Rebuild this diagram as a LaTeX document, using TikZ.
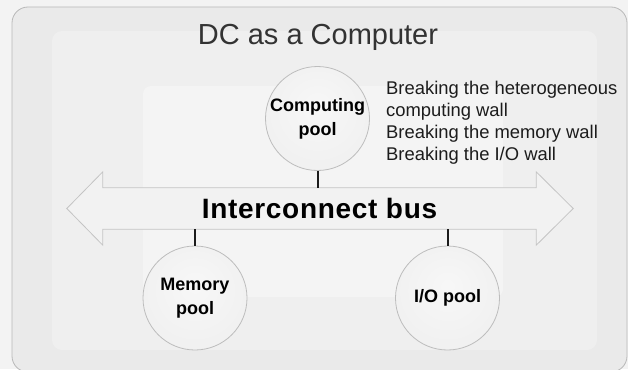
\documentclass[tikz,border=0pt]{standalone}
\usepackage{fontspec}
\setmainfont{Liberation Sans}
\usetikzlibrary{calc}
\pgfdeclarelayer{panels}
\pgfdeclarelayer{busbody}
\pgfsetlayers{panels,busbody,main}
\definecolor{pageback}{HTML}{F3F3F3}
\definecolor{panelfill}{HTML}{EAEAEA}
\definecolor{panelline}{HTML}{B9B9B9}
\definecolor{glowmid}{HTML}{EFEFEF}
\definecolor{glowin}{HTML}{F4F4F4}
\definecolor{busfill}{HTML}{F2F2F2}
\definecolor{busline}{HTML}{C4C4C4}
\definecolor{poolline}{HTML}{BDBDBD}
\definecolor{inktext}{HTML}{1C1C1C}
% soft sphere-like fill for the pools
\pgfdeclareradialshading{poolshade}{\pgfpoint{0bp}{6bp}}{%
  color(0bp)=(white!97!black);
  color(30bp)=(white!94!black);
  color(44bp)=(white!91!black);
  color(50bp)=(white!89!black)}
\tikzset{
  pool/.style={circle, draw=poolline, line width=0.8pt, inner sep=0pt,
    minimum size=104pt, shading=poolshade,
    align=center, text=black, font=\bfseries\fontsize{18}{24}\selectfont},
  link/.style={draw=inktext, line width=2pt},
  note/.style={anchor=base west, inner sep=0pt, text=inktext,
    font=\fontsize{18.4}{22}\selectfont},
}
\begin{document}
\begin{tikzpicture}[x=1pt, y=-1pt]
\useasboundingbox (0,0) rectangle (628,369);
\begin{pgfonlayer}{panels}
\fill[pageback] (0,0) rectangle (628,369);
% outer panel with nested lighter glow zones
\draw[panelline, fill=panelfill, line width=0.8pt, rounded corners=16pt] (12,7) rectangle (627,372);
\fill[glowmid, rounded corners=10pt] (52,31) rectangle (597,350);
\fill[glowin, rounded corners=8pt] (143,86) rectangle (503,297);
\end{pgfonlayer}
% title
\node[anchor=base, inner sep=0pt, text=inktext!90!white, font=\fontsize{29}{34}\selectfont] (title) at (318,45) {DC as a Computer};
% interconnect bus: label fills the shaft, double-headed outline drawn behind it
\node[minimum width=433pt, minimum height=41pt, inner sep=0pt, text=black,
      font=\bfseries\fontsize{28}{32}\selectfont\addfontfeature{LetterSpace=2.5}] (bus) at (319.5,208.5) {Interconnect bus};
\begin{pgfonlayer}{busbody}
\path[draw=busline, fill=busfill, line width=0.8pt]
  (bus.north west) -- ($(bus.north west)+(0,-16)$) -- ($(bus.west)+(-36,0)$)
  -- ($(bus.south west)+(0,16)$) -- (bus.south west) -- (bus.south east)
  -- ($(bus.south east)+(0,16)$) -- ($(bus.east)+(37,0)$)
  -- ($(bus.north east)+(0,-16)$) -- (bus.north east) -- cycle;
\end{pgfonlayer}
% resource pools
\node[pool] (comp) at (317.5,118.5) {Computing\\pool};
\node[pool] (mem) at (195,298) {Memory\\pool};
\node[pool] (io) at (447.5,298) {I/O pool};
% links to the bus
\draw[link] (comp.south) -- (comp.south |- bus.north);
\draw[link] (mem.north) -- (mem.north |- bus.south);
\draw[link] (io.north) -- (io.north |- bus.south);
% goals
\node[note] (g1) at (386,94) {Breaking the heterogeneous};
\node[note] (g2) at (386,116) {computing wall};
\node[note] (g3) at (386,138) {Breaking the memory wall};
\node[note] (g4) at (386,160) {Breaking the I/O wall};
\end{tikzpicture}
\end{document}
